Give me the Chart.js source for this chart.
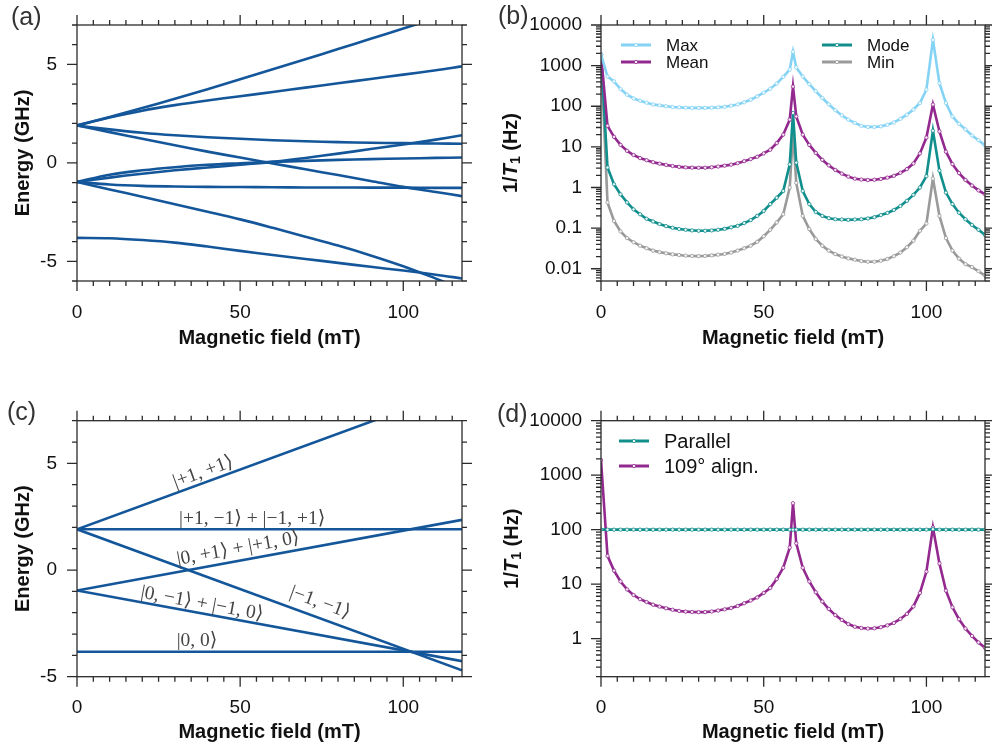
<!DOCTYPE html>
<html>
<head>
<meta charset="utf-8">
<script src="https://cdn.jsdelivr.net/npm/chart.js@4.4.0/dist/chart.umd.min.js"></script>
<style>
  body { margin: 0; background: #fff; width: 992px; height: 751px; overflow: hidden; position: relative; }
  .panel { position: absolute; }
  .tag { position: absolute; font: 25px "Liberation Sans", Arial, sans-serif; line-height: 24px; color: #333; }
</style>
</head>
<body>
<div class="panel" style="left:0;top:0"><canvas id="chartA" width="496" height="370"></canvas></div>
<div class="panel" style="left:496px;top:0"><canvas id="chartB" width="496" height="370"></canvas></div>
<div class="panel" style="left:0;top:380px"><canvas id="chartC" width="496" height="371"></canvas></div>
<div class="panel" style="left:496px;top:380px"><canvas id="chartD" width="496" height="371"></canvas></div>
<div class="tag" style="left:11px;top:4px">(a)</div>
<div class="tag" style="left:498px;top:3px">(b)</div>
<div class="tag" style="left:7px;top:399px">(c)</div>
<div class="tag" style="left:497px;top:401px">(d)</div>
<script>
const FONT = '"Liberation Sans", Arial, sans-serif';
const BLUE = '#14569a';

// (a) energy levels, misaligned field (GHz vs mT)
const fieldA = [0, 10, 20, 30, 40, 50, 60, 70, 80, 90, 100, 110, 118];
const levelA1 = [1.9, 2.33, 2.78, 3.25, 3.74, 4.24, 4.75, 5.26, 5.78, 6.3, 6.82, 7.35, 7.78];
const levelA2 = [1.9, 2.3, 2.65, 2.93, 3.17, 3.38, 3.6, 3.82, 4.04, 4.26, 4.48, 4.7, 4.9];
const levelA3 = [1.9, 1.7, 1.53, 1.4, 1.3, 1.22, 1.15, 1.1, 1.05, 1.02, 1.0, 0.98, 0.97];
const levelA4 = [1.9, 1.56, 1.22, 0.89, 0.57, 0.27, -0.03, -0.33, -0.62, -0.92, -1.22, -1.48, -1.69];
const levelB1 = [-0.97, -0.75, -0.55, -0.38, -0.24, -0.1, 0.05, 0.25, 0.47, 0.7, 0.93, 1.18, 1.4];
const levelB2 = [-0.97, -0.6, -0.38, -0.22, -0.1, -0.02, 0.05, 0.1, 0.15, 0.19, 0.22, 0.25, 0.27];
const levelB3 = [-0.97, -1.1, -1.17, -1.2, -1.22, -1.23, -1.24, -1.25, -1.25, -1.26, -1.26, -1.27, -1.27];
const levelB4 = [-0.97, -1.35, -1.72, -2.1, -2.48, -2.87, -3.3, -3.75, -4.2, -4.7, -5.25, -5.88, -6.4];
const levelC1 = [-3.81, -3.83, -3.92, -4.05, -4.25, -4.47, -4.68, -4.88, -5.08, -5.28, -5.47, -5.68, -5.87];

// (c) energy levels, aligned field
const fieldC = [0, 118];
const statePP = [1.91, 8.52];
const statePM = [1.91, 1.91];
const stateZP = [-0.96, 2.35];
const stateMM = [1.91, -4.70];
const stateZM = [-0.96, -4.27];
const stateZZ = [-3.83, -3.83];

// (b), (d) relaxation rates (Hz)
const fieldB = [0, 2, 4, 6, 8, 10, 12, 14, 16, 18, 20, 22, 24, 26, 28, 30, 32, 34, 36, 38,
  40, 42, 44, 46, 48, 50, 52, 54, 56, 58, 59, 60, 62, 64, 66, 68, 70, 72, 74, 76, 78,
  80, 82, 84, 86, 88, 90, 92, 94, 96, 98, 100, 102, 104, 106, 108, 110, 112, 114, 116, 118];
const rateMax = [1900, 540, 410, 265, 192, 156, 137, 122, 111, 105, 100, 96, 94, 92, 91, 91, 91, 92, 94, 97,
  103, 111, 125, 145, 175, 215, 270, 360, 530, 800, 2200, 900, 540, 350, 235, 160, 112, 80, 60, 47, 39,
  33, 31, 31, 32, 35, 40, 49, 62, 83, 120, 257, 4300, 370, 120, 56, 37, 27, 19, 14.6, 10.8];
const rateMean = [1900, 33, 17.7, 11.2, 8.0, 6.3, 5.3, 4.7, 4.2, 3.87, 3.6, 3.38, 3.22, 3.13, 3.08, 3.06, 3.07, 3.15, 3.28, 3.45,
  3.65, 3.97, 4.45, 5.0, 5.7, 6.9, 8.5, 12.4, 20, 47, 305, 56, 20, 11.2, 7.1, 4.8, 3.5, 2.7, 2.2, 1.85, 1.65,
  1.57, 1.53, 1.55, 1.62, 1.75, 1.94, 2.3, 2.84, 3.9, 6.9, 17, 110, 24, 7.6, 3.76, 2.27, 1.53, 1.12, 0.85, 0.68];
const rateMode = [1900, 3.1, 1.2, 0.68, 0.43, 0.29, 0.22, 0.17, 0.146, 0.126, 0.112, 0.102, 0.095, 0.091, 0.088, 0.086, 0.086, 0.088, 0.091, 0.096,
  0.105, 0.114, 0.133, 0.158, 0.2, 0.265, 0.39, 0.56, 0.82, 3.7, 68, 4.1, 0.82, 0.39, 0.25, 0.2, 0.176, 0.166, 0.163, 0.16, 0.163,
  0.166, 0.173, 0.186, 0.21, 0.237, 0.28, 0.35, 0.47, 0.66, 1.0, 1.9, 25, 2.6, 0.75, 0.39, 0.24, 0.166, 0.12, 0.091, 0.068];
const rateMin = [1900, 0.43, 0.15, 0.083, 0.057, 0.045, 0.037, 0.032, 0.028, 0.0257, 0.024, 0.0226, 0.0218, 0.021, 0.0207, 0.0205, 0.0207, 0.0214, 0.0222, 0.0232,
  0.025, 0.028, 0.032, 0.037, 0.046, 0.063, 0.091, 0.138, 0.22, 1.0, 24, 1.3, 0.2, 0.095, 0.054, 0.037, 0.028, 0.023, 0.02, 0.018, 0.0167,
  0.0155, 0.0149, 0.0149, 0.0158, 0.0174, 0.0204, 0.025, 0.034, 0.049, 0.086, 0.13, 1.66, 0.2, 0.057, 0.028, 0.0178, 0.013, 0.011, 0.0087, 0.0068];
const rateParallel = [100, 100, 100, 100, 100, 100, 100, 100, 100, 100, 100, 100, 100, 100, 100, 100, 100, 100, 100, 100,
  100, 100, 100, 100, 100, 100, 100, 100, 100, 100, 100, 100, 100, 100, 100, 100, 100, 100, 100, 100, 100,
  100, 100, 100, 100, 100, 100, 100, 100, 100, 100, 100, 102, 100, 100, 100, 100, 100, 100, 100, 100];

// tick labels
const fieldTicks = [0, 50, 100];
const energyTicks = [-5, 0, 5];
const rateTicksB = [0.01, 0.1, 1, 10, 100, 1000, 10000];
const rateLabelsB = ['0.01', '0.1', '1', '10', '100', '1000', '10000'];
const rateTicksD = [1, 10, 100, 1000, 10000];
const rateLabelsD = ['1', '10', '100', '1000', '10000'];

const pts = (xs, ys) => xs.map((x, i) => ({x: x, y: ys[i]}));

// frame with outward tick marks like the original figure
const framePlugin = {
  id: 'frame',
  afterDatasetsDraw(chart, args, opts) {
    const {ctx, chartArea: a, scales: {x, y}} = chart;
    ctx.save();
    ctx.strokeStyle = '#2b2b2b';
    ctx.lineWidth = 1.3;
    ctx.strokeRect(a.left, a.top, a.right - a.left, a.bottom - a.top);
    ctx.beginPath();
    for (let v = x.min; v <= x.max; v += opts.xStep) {
      const px = x.getPixelForValue(v);
      const len = v % opts.xMajor === 0 ? 10 : 5;
      ctx.moveTo(px, a.bottom); ctx.lineTo(px, a.bottom + len);
      ctx.moveTo(px, a.top); ctx.lineTo(px, a.top - len);
    }
    const yt = [];
    if (opts.log) {
      for (let d = Math.floor(Math.log10(y.min)); d <= Math.ceil(Math.log10(y.max)); d++) {
        for (let m = 1; m < 10; m++) {
          const v = m * Math.pow(10, d);
          if (v >= y.min * 0.999 && v <= y.max * 1.001) yt.push([v, m === 1]);
        }
      }
    } else {
      for (let v = Math.ceil(y.min); v <= y.max; v += 1) yt.push([v, v % opts.yMajor === 0]);
    }
    yt.forEach(([v, major]) => {
      const py = y.getPixelForValue(v);
      const len = major ? 10 : 5;
      ctx.moveTo(a.left, py); ctx.lineTo(a.left - len, py);
      ctx.moveTo(a.right, py); ctx.lineTo(a.right + len, py);
    });
    ctx.stroke();
    ctx.restore();
  }
};

// legend drawn at fixed spots inside the plot
const keyPlugin = {
  id: 'key',
  afterDraw(chart, args, opts) {
    if (!opts.items) return;
    const ctx = chart.ctx;
    ctx.save();
    ctx.font = opts.size + 'px ' + FONT;
    ctx.textBaseline = 'middle';
    opts.items.forEach(it => {
      const ds = chart.data.datasets[it.index];
      ctx.strokeStyle = ds.borderColor;
      ctx.lineWidth = 3;
      ctx.beginPath(); ctx.moveTo(it.x, it.y); ctx.lineTo(it.x + 30, it.y); ctx.stroke();
      ctx.beginPath(); ctx.arc(it.x + 15, it.y, 1.6, 0, 2 * Math.PI);
      ctx.fillStyle = '#fff'; ctx.fill(); ctx.lineWidth = 0.8; ctx.stroke();
      ctx.fillStyle = '#111';
      ctx.fillText(ds.label, it.x + 45, it.y + 1);
    });
    ctx.restore();
  }
};

// y title 1/T1 (Hz) with italic T and subscript
const rateTitlePlugin = {
  id: 'rateTitle',
  afterDraw(chart, args, opts) {
    if (!opts.x) return;
    const {ctx, chartArea: a} = chart;
    const big = 'bold 20px ' + FONT, ital = 'italic bold 20px ' + FONT, small = 'bold 14px ' + FONT;
    const parts = [['1/', big, 0], ['T', ital, 0], ['1', small, 5], [' (Hz)', big, 0]];
    ctx.save();
    ctx.translate(opts.x, (a.top + a.bottom) / 2);
    ctx.rotate(-Math.PI / 2);
    ctx.textBaseline = 'middle';
    ctx.fillStyle = '#111';
    let w = 0;
    parts.forEach(p => { ctx.font = p[1]; w += ctx.measureText(p[0]).width; });
    let cx = -w / 2;
    parts.forEach(p => { ctx.font = p[1]; ctx.fillText(p[0], cx, p[2]); cx += ctx.measureText(p[0]).width; });
    ctx.restore();
  }
};

// state names along the lines of panel (c)
const statePlugin = {
  id: 'states',
  afterDatasetsDraw(chart, args, opts) {
    if (!opts.items) return;
    const {ctx, scales: {x, y}} = chart;
    ctx.save();
    ctx.font = opts.font;
    ctx.fillStyle = '#444';
    ctx.textAlign = 'center';
    ctx.textBaseline = 'middle';
    opts.items.forEach(it => {
      const d = chart.data.datasets[it.line].data;
      const p0 = d[0], p1 = d[d.length - 1];
      const ang = Math.atan2(y.getPixelForValue(p1.y) - y.getPixelForValue(p0.y),
                             x.getPixelForValue(p1.x) - x.getPixelForValue(p0.x));
      ctx.save();
      ctx.translate(x.getPixelForValue(it.x), y.getPixelForValue(it.y));
      ctx.rotate(ang);
      ctx.fillText(it.text, 0, 0);
      ctx.restore();
    });
    ctx.restore();
  }
};

Chart.register(framePlugin, keyPlugin, rateTitlePlugin, statePlugin);

function makePanel(id, cfg) {
  const yScale = {
    type: cfg.log ? 'logarithmic' : 'linear',
    min: cfg.yMin, max: cfg.yMax,
    grid: {display: false}, border: {display: false},
    afterBuildTicks: s => { s.ticks = cfg.yTicks.map(v => ({value: v})); },
    afterFit: s => { s.width = cfg.left; },
    ticks: {
      autoSkip: false, padding: cfg.log ? 11 : 12, color: '#111',
      font: {family: FONT, size: 19},
      callback: (v, i) => cfg.yLabels[i]
    },
    title: cfg.yTitle ? {
      display: true, text: cfg.yTitle, color: '#111',
      font: {family: FONT, size: 20, weight: 'bold'}, padding: {top: 11}
    } : {display: false}
  };
  return new Chart(document.getElementById(id), {
    type: 'line',
    data: {datasets: cfg.datasets},
    options: {
      responsive: false,
      animation: false,
      layout: {padding: {top: cfg.top, right: cfg.right, left: 0, bottom: 0}},
      plugins: {
        legend: {display: false},
        tooltip: {enabled: false},
        frame: {xStep: 5, xMajor: 50, log: cfg.log, yMajor: 5},
        key: cfg.key || {},
        rateTitle: cfg.rateTitle || {},
        states: cfg.states || {}
      },
      scales: {
        x: {
          type: 'linear', min: 0, max: 118,
          grid: {display: false}, border: {display: false},
          afterBuildTicks: s => { s.ticks = fieldTicks.map(v => ({value: v})); },
          afterFit: s => { s.height = cfg.bottom; },
          ticks: {autoSkip: false, maxRotation: 0, padding: 12, color: '#111', font: {family: FONT, size: 19}},
          title: {
            display: true, text: 'Magnetic field (mT)', color: '#111',
            font: {family: FONT, size: 20, weight: 'bold'}, padding: {bottom: cfg.titlePad}
          }
        },
        y: yScale
      }
    }
  });
}

const blueLine = (ys, xs) => ({
  data: pts(xs, ys), borderColor: BLUE, borderWidth: 2.6, pointRadius: 0,
  tension: 0.35, fill: false
});

const rateLine = (label, ys, color) => ({
  label: label, data: pts(fieldB, ys), borderColor: color, borderWidth: 2.6,
  pointRadius: 1.7, pointBorderWidth: 0.8, pointBorderColor: color,
  pointBackgroundColor: 'rgba(255,255,255,0.9)', tension: 0, fill: false
});

// (a)
makePanel('chartA', {
  top: 25, right: 34, left: 77, bottom: 89, titlePad: 20,
  yMin: -6, yMax: 7, yTicks: energyTicks, yLabels: ['-5', '0', '5'], yTitle: 'Energy (GHz)',
  datasets: [levelA1, levelA2, levelA3, levelA4, levelB1, levelB2, levelB3, levelB4, levelC1].map(l => blueLine(l, fieldA))
});

// (b)
makePanel('chartB', {
  top: 25, right: 7, left: 105, bottom: 89, titlePad: 20, log: true,
  yMin: 0.005, yMax: 10000, yTicks: rateTicksB, yLabels: rateLabelsB,
  rateTitle: {x: 15},
  key: {size: 17, items: [
    {index: 0, x: 125, y: 45}, {index: 1, x: 125, y: 62},
    {index: 2, x: 326, y: 45}, {index: 3, x: 326, y: 62}
  ]},
  datasets: [
    rateLine('Max', rateMax, '#84d3f5'),
    rateLine('Mean', rateMean, '#93288f'),
    rateLine('Mode', rateMode, '#108f8d'),
    rateLine('Min', rateMin, '#9a9a9a')
  ]
});

// (c)
const straight = ys => ({data: pts(fieldC, ys), borderColor: BLUE, borderWidth: 2.6, pointRadius: 0, tension: 0, fill: false});
makePanel('chartC', {
  top: 40.7, right: 34, left: 77, bottom: 74.3, titlePad: 6.3,
  yMin: -5, yMax: 7, yTicks: energyTicks, yLabels: ['-5', '0', '5'], yTitle: 'Energy (GHz)',
  states: {font: '19.5px "Liberation Serif", "DejaVu Serif", serif', items: [
    {text: '|+1, +1⟩', x: 38.7, y: 4.59, line: 0},
    {text: '|+1, −1⟩ + |−1, +1⟩', x: 53.7, y: 2.38, line: 1},
    {text: '|0, +1⟩ + |+1, 0⟩', x: 49.4, y: 1.0, line: 2},
    {text: '|−1, −1⟩', x: 74.5, y: -1.53, line: 3},
    {text: '|0, −1⟩ + |−1, 0⟩', x: 38.3, y: -1.58, line: 4},
    {text: '|0, 0⟩', x: 36.8, y: -3.33, line: 5}
  ]},
  datasets: [statePP, statePM, stateZP, stateMM, stateZM, stateZZ].map(straight)
});

// (d)
makePanel('chartD', {
  top: 40.7, right: 7, left: 105, bottom: 74.3, titlePad: 6.3, log: true,
  yMin: 0.2, yMax: 10000, yTicks: rateTicksD, yLabels: rateLabelsD,
  rateTitle: {x: 16},
  key: {size: 20, items: [{index: 0, x: 123, y: 61}, {index: 1, x: 123, y: 86}]},
  datasets: [
    rateLine('Parallel', rateParallel, '#108f8d'),
    rateLine('109° align.', rateMean, '#93288f')
  ]
});
</script>
</body>
</html>
